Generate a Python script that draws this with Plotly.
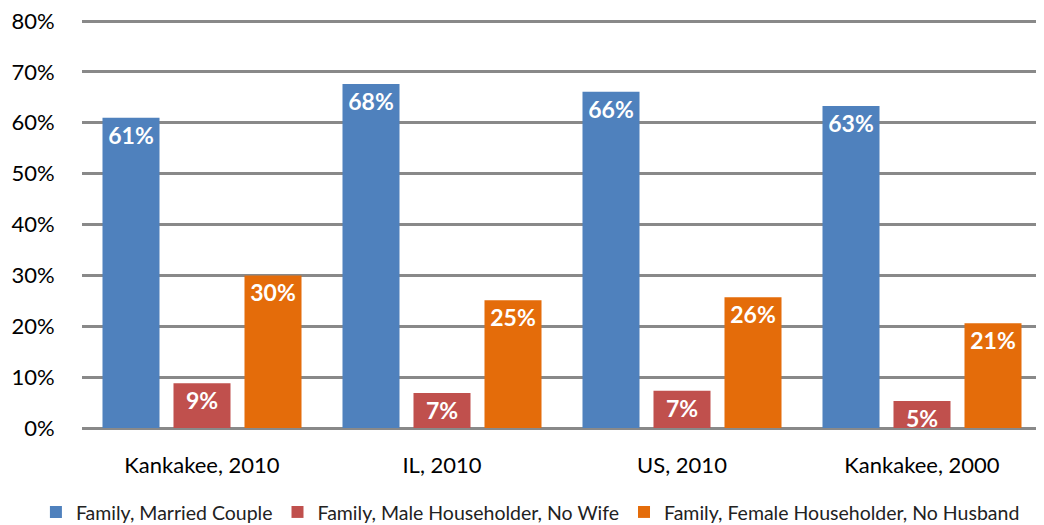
import plotly.graph_objects as go

categories = ["Kankakee, 2010", "IL, 2010", "US, 2010", "Kankakee, 2000"]
series_names = ["Family, Married Couple", "Family, Male Householder, No Wife",
                "Family, Female Householder, No Husband"]
married = [61.0, 67.6, 66.1, 63.3]
male_no_wife = [8.8, 6.9, 7.3, 5.3]
female_no_husband = [30.0, 25.1, 25.7, 20.6]
colors = ["#4F81BD", "#C0504D", "#E46C0A"]
tick_vals = [0, 10, 20, 30, 40, 50, 60, 70, 80]
tick_text = ["0%", "10%", "20%", "30%", "40%", "50%", "60%", "70%", "80%"]

FONT = "Lato"
fig = go.Figure()
for name, vals, col in zip(series_names, [married, male_no_wife, female_no_husband], colors):
    fig.add_trace(go.Bar(
        x=categories, y=vals, name=name, marker=dict(color=col, line=dict(width=0)),
        text=[f"{round(v)}%" for v in vals], textposition="inside",
        insidetextanchor="end", textangle=0, constraintext="none",
        insidetextfont=dict(family=FONT, size=23, color="white", weight="bold"),
    ))

# page body has an 8px default margin, so the figure is 8px smaller and shifted
fig.update_layout(
    width=1036, height=517,
    paper_bgcolor="white", plot_bgcolor="white",
    barmode="group", bargap=0.1125, bargroupgap=0.197,
    margin=dict(l=74, r=2, t=11, b=97, autoexpand=False),
    font=dict(family=FONT, color="#000000"),
    showlegend=True,
    legend=dict(orientation="h", x=-0.048, xanchor="left", y=-0.206, yanchor="middle",
                font=dict(family=FONT, size=19.5, color="#222"), itemwidth=30,
                traceorder="normal"),
    xaxis=dict(showgrid=False, showline=False, ticks="outside", ticklen=18, automargin=False,
               tickcolor="rgba(0,0,0,0)", tickfont=dict(family=FONT, size=22, color="#000")),
    yaxis=dict(range=[0, 80.4], tickvals=tick_vals, ticktext=tick_text, automargin=False,
               ticklabeloverflow="allow",
               showgrid=True, gridcolor="#898989", gridwidth=3,
               zeroline=True, zerolinecolor="#898989", zerolinewidth=3,
               showline=False, ticks="outside", ticklen=22, tickcolor="rgba(0,0,0,0)",
               tickfont=dict(family=FONT, size=22, color="#000")),
)
fig.write_html("out.html")
